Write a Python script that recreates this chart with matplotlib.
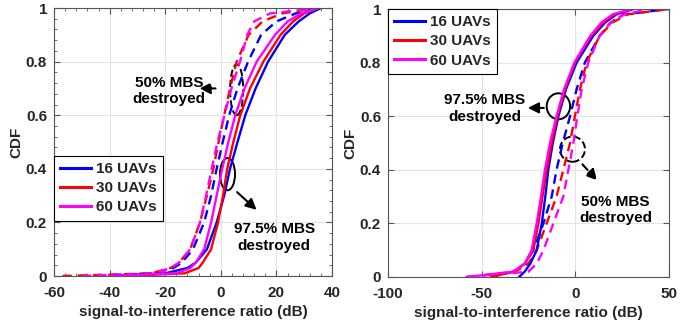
import matplotlib
matplotlib.use("Agg")
import matplotlib.pyplot as plt
from matplotlib.patches import Ellipse
from matplotlib.ticker import MultipleLocator

plt.rcParams["font.family"] = ["Liberation Sans", "DejaVu Sans"]
plt.rcParams["font.weight"] = "bold"
plt.rcParams["axes.unicode_minus"] = False

# CDF levels shared by every curve
cdf_left = [0, 0.01, 0.03, 0.05, 0.1, 0.2, 0.3, 0.4, 0.5, 0.6, 0.7, 0.8, 0.9, 0.95, 0.98, 1.0]
cdf_right = [0, 0.02, 0.05, 0.1, 0.2, 0.3, 0.4, 0.5, 0.6, 0.7, 0.8, 0.9, 0.95, 0.98, 1.0]

labels = ["16 UAVs", "30 UAVs", "60 UAVs"]
colors = ["#0000ff", "#ff0000", "#ff00ff"]

# left panel: SIR (dB) at each CDF level, solid = 97.5% destroyed, dashed = 50% destroyed
left_solid = [
    [-40, -20, -12, -9, -5, -1.5, 1.2, 3.3, 6, 8.8, 12.5, 17, 23, 28, 32, 36],
    [-35, -13, -8, -6.5, -3.5, -1, 0.8, 2.3, 4.5, 7, 10.5, 15.3, 21.5, 26, 30, 35],
    [-40, -16, -11, -9, -6, -3.5, -1.5, 0.5, 2.7, 5.2, 8.5, 12.9, 19.5, 24, 29, 35],
]
left_dashed = [
    [-45, -25, -17, -14, -10, -6, -3.5, -1.5, 0.7, 3, 6, 9.8, 14.5, 20, 27, 35],
    [-57, -25, -18, -15, -11, -7.5, -5, -2.7, -0.8, 1.2, 3.3, 5.7, 10, 15, 22, 35],
    [-50, -24, -18, -15, -11, -7.5, -5.3, -3.3, -1.2, 1.3, 3.8, 6.9, 9.5, 12, 17.7, 35],
]

# right panel
right_solid = [
    [-30, -27, -24, -20.6, -17.9, -16, -14.4, -12, -9, -5, 0.7, 9.6, 16, 22, 31],
    [-45, -33, -27, -22.4, -19.7, -17.5, -15.3, -12.5, -9.5, -5.5, -0.2, 8.5, 15, 21, 30],
    [-58, -33, -27, -23.3, -20.6, -18.3, -16.2, -13.5, -10, -6, -0.5, 8, 14, 20, 30],
]
right_dashed = [
    [-45, -33, -26.8, -22.4, -17, -12.6, -10, -6.7, -2.8, 0.7, 5.1, 13, 19, 26, 50],
    [-58, -32, -25, -20.6, -15.3, -10, -6.4, -2.8, -0.2, 2.5, 6, 13, 20, 28, 50],
    [-58, -25, -20.6, -17, -11.7, -6.4, -3.7, -1, 1.1, 3.4, 6.9, 13, 19, 26, 40],
]

TXT = "#262626"
SPINE = "#555555"


def style_axes(ax, xlim, xticks, minor):
    ax.set_xlim(*xlim)
    ax.set_ylim(0, 1)
    ax.set_xticks(xticks)
    ax.set_yticks([0, 0.2, 0.4, 0.6, 0.8, 1])
    ax.set_yticklabels(["0", "0.2", "0.4", "0.6", "0.8", "1"])
    if minor:
        ax.xaxis.set_minor_locator(MultipleLocator(4))
        ax.yaxis.set_minor_locator(MultipleLocator(0.04))
    ax.tick_params(which="both", direction="in", top=True, right=True,
                   colors=SPINE, labelcolor=TXT, labelsize=11)
    ax.tick_params(axis="x", pad=7)
    ax.tick_params(axis="y", pad=5)
    ax.tick_params(which="major", length=4)
    ax.tick_params(which="minor", length=2)
    ax.grid(True, which="major", color="#e3e3e3", lw=0.8)
    ax.set_axisbelow(True)
    for s in ax.spines.values():
        s.set_color(SPINE)
        s.set_linewidth(0.8)
    for t in ax.get_xticklabels() + ax.get_yticklabels():
        t.set_fontweight("bold")
    ax.set_xlabel("signal-to-interference ratio (dB)", fontsize=11, fontweight="bold",
                  color=TXT, labelpad=4)
    ax.set_ylabel("CDF", fontsize=11, fontweight="bold", color=TXT, labelpad=2)


def draw_curves(ax, cdf, solid, dashed):
    handles = []
    for xs, c in zip(dashed, colors):
        ax.plot(xs, cdf, color=c, lw=1.7, ls=(0, (4, 2.5)))
    for xs, c, lab in zip(solid, colors, labels):
        h, = ax.plot(xs, cdf, color=c, lw=1.7, label=lab)
        handles.append(h)
    return handles


fig = plt.figure(figsize=(6.99, 3.28), dpi=100)
ax1 = fig.add_axes([0.0773, 0.1585, 0.3977, 0.817])
ax2 = fig.add_axes([0.555, 0.1555, 0.402, 0.817])

h1 = draw_curves(ax1, cdf_left, left_solid, left_dashed)
h2 = draw_curves(ax2, cdf_right, right_solid, right_dashed)

style_axes(ax1, (-60, 40), [-60, -40, -20, 0, 20, 40], True)
style_axes(ax2, (-100, 50), [-100, -50, 0, 50], False)

leg_kw = dict(fontsize=11, frameon=True, fancybox=False, framealpha=1,
              edgecolor="black", handlelength=2.0, handletextpad=0.3,
              labelspacing=0.33, borderpad=0.42, borderaxespad=0)
leg1 = ax1.legend(handles=h1, loc="lower left", bbox_to_anchor=(0, 0.207), **leg_kw)
leg2 = ax2.legend(handles=h2, loc="upper left", bbox_to_anchor=(0, 1), **leg_kw)
for leg in (leg1, leg2):
    leg.get_frame().set_linewidth(0.8)
    for t in leg.get_texts():
        t.set_fontweight("bold")
        t.set_color(TXT)
    for l in leg.get_lines():
        l.set_linewidth(2.2)

ann_kw = dict(fontsize=11, fontweight="bold", color="black", ha="center",
              va="center", linespacing=1.25)
solid_arrow = dict(arrowstyle="-|>", color="black", lw=1.5, mutation_scale=16)
dash_arrow = dict(arrowstyle="-|>", color="black", lw=1.5, ls="--", mutation_scale=16)

# left panel annotations
ax1.add_patch(Ellipse((5.7, 0.695), 4.7, 0.19, fill=False, ec="black", lw=1.4, ls="--"))
ax1.annotate("", xy=(-8.7, 0.70), xytext=(-0.9, 0.70), arrowprops=dash_arrow)
ax1.text(-18.7, 0.69, "50% MBS\ndestroyed", **ann_kw)
ax1.add_patch(Ellipse((2.4, 0.38), 5.4, 0.12, fill=False, ec="black", lw=1.4))
ax1.annotate("", xy=(13.6, 0.24), xytext=(5.1, 0.32), arrowprops=solid_arrow)
ax1.text(19.2, 0.145, "97.5% MBS\ndestroyed", **ann_kw)

# right panel annotations
ax2.add_patch(Ellipse((-9, 0.637), 12.5, 0.097, fill=False, ec="black", lw=1.4))
ax2.annotate("", xy=(-26.8, 0.631), xytext=(-15.3, 0.631), arrowprops=solid_arrow)
ax2.text(-48.3, 0.628, "97.5% MBS\ndestroyed", **ann_kw)
ax2.add_patch(Ellipse((-1.5, 0.477), 13.3, 0.094, fill=False, ec="black", lw=1.4, ls="--"))
ax2.annotate("", xy=(12.7, 0.353), xytext=(2.8, 0.428), arrowprops=dash_arrow)
ax2.text(21.6, 0.25, "50% MBS\ndestroyed", **ann_kw)

fig.savefig("out.png", dpi=100)
plt.close(fig)
